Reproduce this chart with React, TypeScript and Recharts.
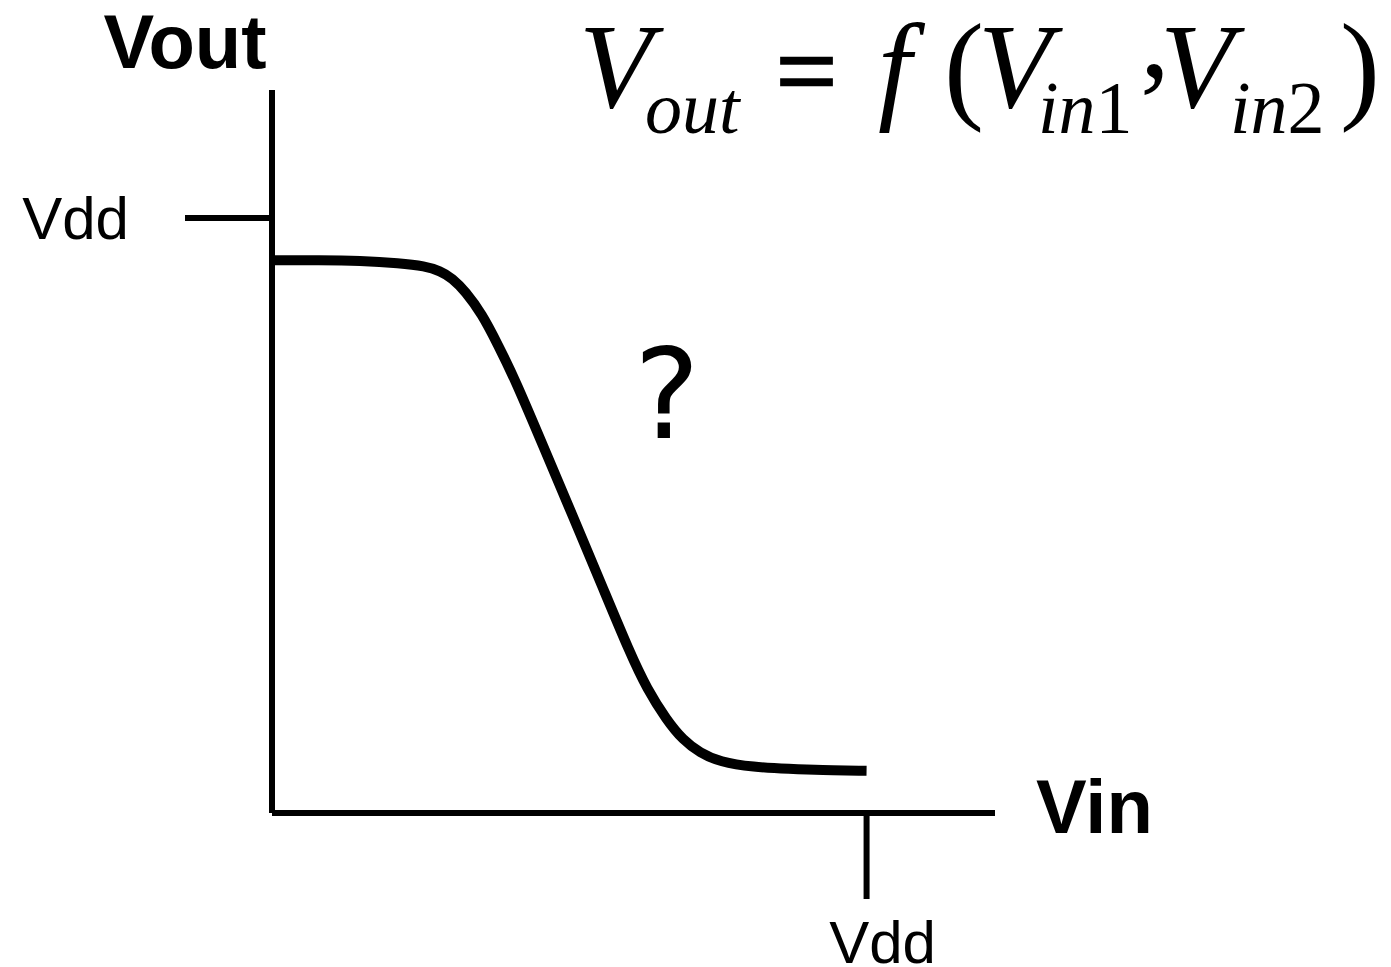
import { LineChart, Line, XAxis, YAxis } from "recharts";

// Vin / Vout in units of Vdd
const vin = [
  0, 0.081, 0.148, 0.215, 0.257, 0.283, 0.303, 0.325, 0.353, 0.38, 0.409, 0.456,
  0.505, 0.555, 0.602, 0.631, 0.664, 0.691, 0.72, 0.753, 0.809, 0.871, 0.922, 1.0,
];
const vout = [
  0.929, 0.929, 0.928, 0.924, 0.919, 0.911, 0.899, 0.877, 0.839, 0.787, 0.728, 0.617,
  0.501, 0.382, 0.269, 0.208, 0.156, 0.123, 0.101, 0.086, 0.077, 0.074, 0.072, 0.071,
];
const vddTicks = [1];
const vddLabel = "Vdd";
const axisMax = [1.216, 1.215];

const data = vin.map((v, i) => ({ vin: v, vout: vout[i] }));

const SANS = "'Liberation Sans', Arial, sans-serif";
const SERIF = "'Liberation Serif', 'Times New Roman', serif";

function XTick({ x, y }: { x?: number; y?: number }) {
  return (
    <text x={(x ?? 0) + 16} y={y} dy="0.71em" textAnchor="middle" fontFamily={SANS} fontSize={60} fill="#000">
      {vddLabel}
    </text>
  );
}

function YTick({ x, y }: { x?: number; y?: number }) {
  return (
    <text x={x} y={y} dy="0.355em" textAnchor="end" fontFamily={SANS} fontSize={60} fill="#000">
      {vddLabel}
    </text>
  );
}

function Overlay() {
  const main = { fontFamily: SERIF, fontSize: 120, fill: "#000" };
  const sub = { fontFamily: SERIF, fontSize: 74, fill: "#000" };
  return (
    <svg width={1391} height={967} style={{ position: "absolute", left: 0, top: 0, pointerEvents: "none" }}>
      <text x={185} y={68} textAnchor="middle" fontFamily={SANS} fontWeight="bold" fontSize={76} fill="#000">
        Vout
      </text>
      <text x={1036} y={833} fontFamily={SANS} fontWeight="bold" fontSize={76} fill="#000">
        Vin
      </text>
      <text x={667} y={438} textAnchor="middle" fontFamily="'DejaVu Sans', sans-serif" fontSize={124} fill="#000">
        ?
      </text>

      {/* Vout = f(Vin1, Vin2) */}
      <text x={579} y={107} fontStyle="italic" {...main}>V</text>
      <text x={645} y={133} fontStyle="italic" {...sub}>out</text>
      <text x={776} y={107} fontFamily={SERIF} fontSize={108} fill="#000" stroke="#000" strokeWidth={2.5}>=</text>
      <text x={878} y={107} fontStyle="italic" {...main}>f</text>
      <text x={944} y={107} {...main}>(</text>
      <text x={978} y={107} fontStyle="italic" {...main}>V</text>
      <text x={1038} y={133} {...sub}>
        <tspan fontStyle="italic">in</tspan>1
      </text>
      <text x={1140} y={76} {...main}>,</text>
      <text x={1160} y={107} fontStyle="italic" {...main}>V</text>
      <text x={1230} y={133} {...sub}>
        <tspan fontStyle="italic">in</tspan>2
      </text>
      <text x={1340} y={107} {...main}>)</text>
    </svg>
  );
}

export default function App() {
  return (
    <div style={{ position: "absolute", left: 0, top: 0, width: 1391, height: 967, background: "#fff" }}>
      <LineChart
        width={1391}
        height={967}
        data={data}
        margin={{ top: 90, right: 396, bottom: 124, left: 212 }}
      >
        <XAxis
          type="number"
          dataKey="vin"
          domain={[0, axisMax[0]]}
          ticks={vddTicks}
          height={30}
          axisLine={{ stroke: "#000", strokeWidth: 6 }}
          tickLine={{ stroke: "#000", strokeWidth: 6 }}
          tickSize={86}
          tickMargin={21}
          tick={<XTick />}
        />
        <YAxis
          type="number"
          domain={[0, axisMax[1]]}
          ticks={vddTicks}
          width={60}
          axisLine={{ stroke: "#000", strokeWidth: 6 }}
          tickLine={{ stroke: "#000", strokeWidth: 6 }}
          tickSize={87}
          tickMargin={56}
          tick={<YTick />}
        />
        <Line
          type="basis"
          dataKey="vout"
          stroke="#000"
          strokeWidth={10}
          dot={false}
          isAnimationActive={false}
        />
      </LineChart>
      <Overlay />
    </div>
  );
}
